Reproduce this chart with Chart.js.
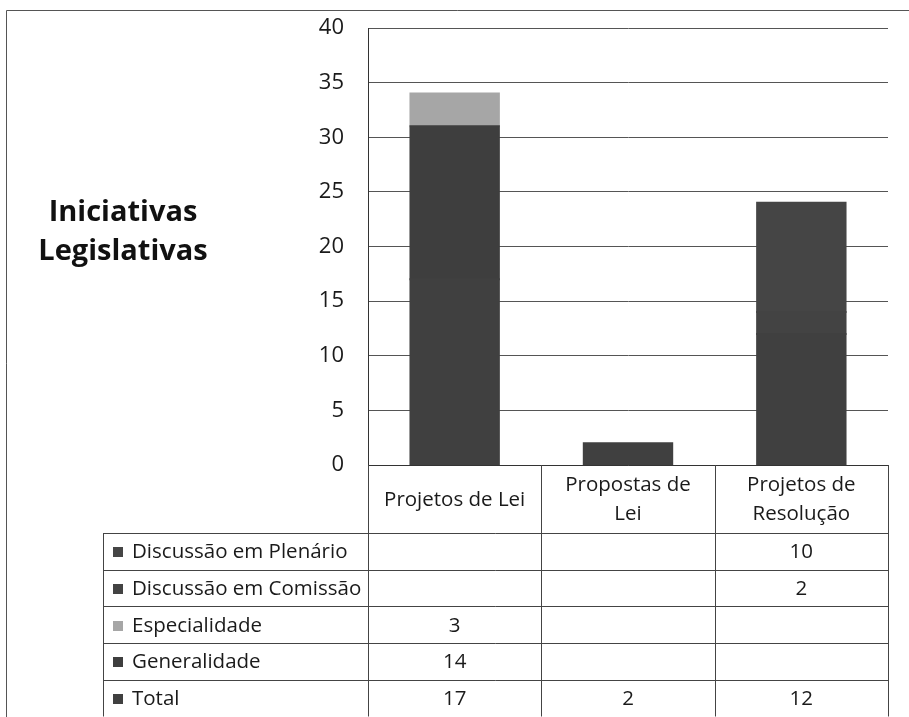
<!DOCTYPE html>
<html><head><meta charset="utf-8">
<script src="https://cdn.jsdelivr.net/npm/chart.js@4.4.0/dist/chart.umd.min.js"></script>
<style>html,body{margin:0;padding:0;background:#fff;}</style>
</head><body>
<canvas id="c" width="909" height="717"></canvas>
<script>
const categories = [["Projetos de Lei"], ["Propostas de", "Lei"], ["Projetos de", "Resolução"]];
const chartTitle = ["Iniciativas", "Legislativas"];
const seriesNames = ["Total", "Generalidade", "Especialidade", "Discussão em Comissão", "Discussão em Plenário"];
const total = [17, 2, 12];
const generalidade = [14, null, null];
const especialidade = [3, null, null];
const comissao = [null, null, 2];
const plenario = [null, null, 10];
const yMin = 0, yMax = 40, yStep = 5;

const seriesValues = [total, generalidade, especialidade, comissao, plenario];
const seriesColors = ["#404040", "#3e3e3e", "#a6a6a6", "#434343", "#454545"];
const FONT = "'Open Sans', Lato, sans-serif";

const tablePlugin = {
  id: 'tablePlugin',
  beforeDraw(chart) {
    const ctx = chart.ctx;
    ctx.save();
    ctx.fillStyle = '#fff';
    ctx.fillRect(0, 0, chart.width, chart.height);
    ctx.strokeStyle = '#555';
    ctx.lineWidth = 1;
    ctx.beginPath();
    ctx.moveTo(6.5, 717); ctx.lineTo(6.5, 10.5); ctx.lineTo(909, 10.5);
    ctx.stroke();
    ctx.restore();
  },
  afterDraw(chart) {
    const ctx = chart.ctx;
    const xs = chart.scales.x;
    const area = chart.chartArea;
    ctx.save();
    ctx.fillStyle = '#111';
    ctx.font = "bold 29px " + FONT;
    ctx.textAlign = 'center';
    ctx.textBaseline = 'middle';
    ctx.fillText(chartTitle[0], 123, 213);
    ctx.fillText(chartTitle[1], 123, 252);

    const n = categories.length;
    const colW = (area.right - area.left) / n;
    const headTop = xs.top;
    const headBottom = headTop + 68;
    const bottom = 716.5;
    const rowH = (bottom - headBottom) / seriesNames.length;
    const tableLeft = 103.5;

    ctx.strokeStyle = '#444';
    ctx.lineWidth = 1;
    ctx.beginPath();
    for (let i = 0; i <= n; i++) {
      const x = Math.round(area.left + i * colW) + 0.5;
      ctx.moveTo(x, headTop); ctx.lineTo(x, bottom);
    }
    ctx.moveTo(tableLeft, headBottom); ctx.lineTo(tableLeft, bottom);
    for (let r = 0; r <= seriesNames.length; r++) {
      const y = Math.round(headBottom + r * rowH) + 0.5;
      ctx.moveTo(tableLeft, y); ctx.lineTo(area.right, y);
    }
    ctx.stroke();

    ctx.font = "20.5px " + FONT;
    ctx.textBaseline = 'middle';
    for (let r = 0; r < seriesNames.length; r++) {
      const si = seriesNames.length - 1 - r;
      const yc = headBottom + r * rowH + rowH / 2 + 1;
      ctx.fillStyle = seriesColors[si];
      ctx.fillRect(113, Math.round(yc - 5), 10, 10);
      ctx.fillStyle = '#1a1a1a';
      ctx.textAlign = 'left';
      ctx.fillText(seriesNames[si], 132, yc);
      ctx.textAlign = 'center';
      for (let c = 0; c < n; c++) {
        const v = seriesValues[si][c];
        if (v !== null && v !== undefined) {
          ctx.fillText(String(v), xs.getPixelForValue(c), yc);
        }
      }
    }
    ctx.restore();
  }
};

new Chart(document.getElementById('c'), {
  type: 'bar',
  data: {
    labels: categories,
    datasets: seriesNames.map((name, i) => ({
      label: name,
      data: seriesValues[i],
      backgroundColor: seriesColors[i],
      borderWidth: 0,
      inflateAmount: 1,
      barPercentage: 0.51,
      categoryPercentage: 1.0
    }))
  },
  options: {
    responsive: false,
    animation: false,
    devicePixelRatio: 1,
    layout: { padding: { left: 0, right: 21, top: 28, bottom: 0 } },
    plugins: { legend: { display: false }, tooltip: { enabled: false }, title: { display: false } },
    scales: {
      x: {
        stacked: true,
        grid: { display: false, drawTicks: false },
        border: { display: true, color: '#333', width: 1 },
        ticks: { color: '#1a1a1a', font: { family: FONT, size: 20.5, lineHeight: 1.43 }, padding: 20, crossAlign: 'center', maxRotation: 0, autoSkip: false },
        afterFit(s) { s.height = 252; }
      },
      y: {
        stacked: true,
        min: yMin, max: yMax,
        grid: { color: '#555', lineWidth: 1, drawTicks: false },
        border: { display: true, color: '#333', width: 1 },
        ticks: { stepSize: yStep, color: '#1a1a1a', font: { family: FONT, size: 22 }, padding: 24 },
        afterFit(s) { s.width = 368; s.paddingTop = 0; s.paddingBottom = 0; }
      }
    }
  },
  plugins: [tablePlugin]
});
</script>
</body></html>
